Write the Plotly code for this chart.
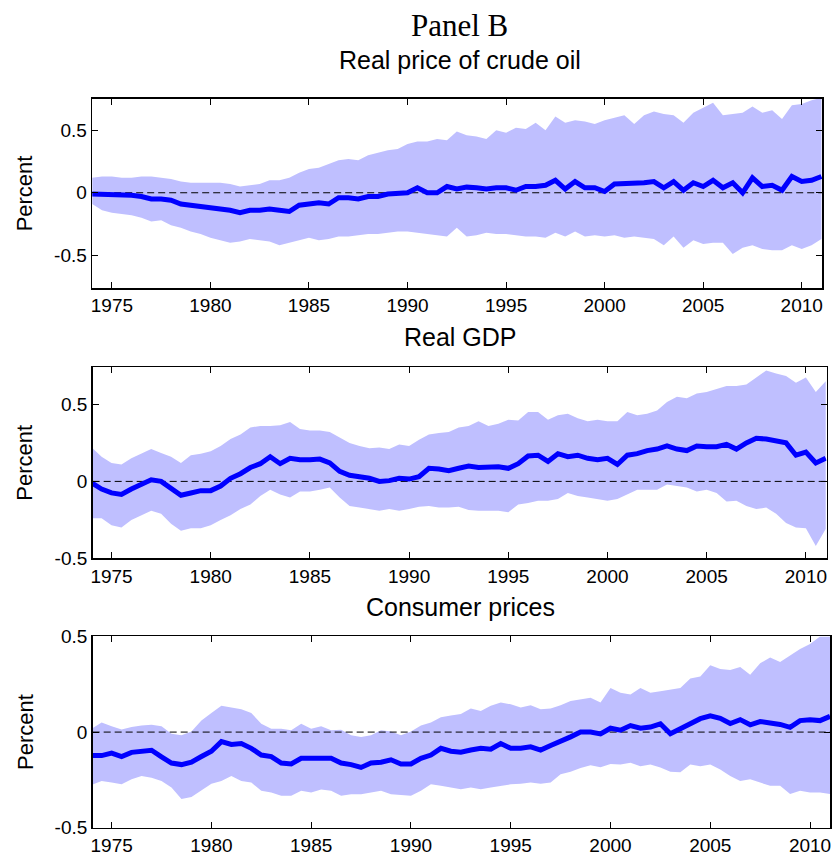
import plotly.graph_objects as go

W, H = 833, 867

# semi-annual observation dates (decimal years), 1974.0 ... 2011.0
dates = [1974.0 + 0.5 * i for i in range(75)]

year_ticks = [1975, 1980, 1985, 1990, 1995, 2000, 2005, 2010]
year_labels = ["1975", "1980", "1985", "1990", "1995", "2000", "2005", "2010"]
pct_ticks = [-0.5, 0, 0.5]
pct_labels = ["-0.5", "0", "0.5"]

titles = ["Real price of crude oil", "Real GDP", "Consumer prices"]

# ---- Panel 1: Real price of crude oil ----
oil_med = [
    -0.01, -0.01, -0.01, -0.02, -0.02, -0.03, -0.05, -0.05, -0.06, -0.09,   # 1974-1978.5
    -0.10, -0.11, -0.11, -0.13, -0.14, -0.16, -0.14, -0.14, -0.13, -0.14,   # 1979-1983.5
    -0.15, -0.10, -0.09, -0.08, -0.09, -0.04, -0.04, -0.05, -0.03, -0.03,   # 1984-1988.5
    -0.01, 0.00, 0.00, 0.04, 0.00, 0.00, 0.05, 0.03, 0.045, 0.04,           # 1989-1993.5
    0.03, 0.04, 0.04, 0.02, 0.05, 0.05, 0.06, 0.10, 0.03, 0.09,             # 1994-1998.5
    0.04, 0.04, 0.01, 0.07, 0.07, 0.07, 0.08, 0.09, 0.04, 0.09,             # 1999-2003.5
    0.02, 0.08, 0.05, 0.10, 0.04, 0.08, 0.00, 0.12, 0.05, 0.06,             # 2004-2008.5
    0.02, 0.13, 0.09, 0.10, 0.13,                                           # 2009-2011
]
oil_up = [
    0.12, 0.13, 0.13, 0.12, 0.12, 0.13, 0.13, 0.12, 0.11, 0.09,
    0.08, 0.08, 0.08, 0.08, 0.07, 0.05, 0.06, 0.07, 0.10, 0.10,
    0.12, 0.16, 0.19, 0.20, 0.23, 0.26, 0.27, 0.26, 0.30, 0.32,
    0.34, 0.35, 0.39, 0.41, 0.41, 0.43, 0.42, 0.49, 0.46, 0.45,
    0.43, 0.50, 0.48, 0.52, 0.51, 0.56, 0.50, 0.61, 0.56, 0.58,
    0.57, 0.55, 0.58, 0.60, 0.62, 0.55, 0.62, 0.65, 0.63, 0.62,
    0.56, 0.64, 0.68, 0.72, 0.62, 0.63, 0.64, 0.69, 0.64, 0.66,
    0.59, 0.70, 0.71, 0.74, 0.76,
]
oil_lo = [
    -0.09, -0.14, -0.16, -0.17, -0.18, -0.20, -0.23, -0.22, -0.26, -0.28,
    -0.31, -0.33, -0.36, -0.38, -0.40, -0.39, -0.37, -0.38, -0.39, -0.42,
    -0.40, -0.38, -0.36, -0.38, -0.37, -0.35, -0.35, -0.34, -0.33, -0.33,
    -0.32, -0.31, -0.31, -0.32, -0.33, -0.34, -0.35, -0.28, -0.35, -0.34,
    -0.32, -0.33, -0.33, -0.34, -0.35, -0.35, -0.36, -0.32, -0.35, -0.31,
    -0.35, -0.34, -0.35, -0.34, -0.36, -0.35, -0.36, -0.37, -0.42, -0.35,
    -0.44, -0.38, -0.41, -0.40, -0.40, -0.49, -0.44, -0.42, -0.45, -0.46,
    -0.46, -0.42, -0.45, -0.42, -0.37,
]

# ---- Panel 2: Real GDP ----
gdp_med = [
    -0.01, -0.05, -0.075, -0.085, -0.05, -0.02, 0.01, 0.00, -0.05, -0.09,
    -0.075, -0.06, -0.06, -0.03, 0.02, 0.05, 0.09, 0.115, 0.16, 0.115,
    0.15, 0.14, 0.14, 0.145, 0.12, 0.065, 0.04, 0.03, 0.02, 0.00,
    0.005, 0.02, 0.015, 0.03, 0.085, 0.08, 0.07, 0.085, 0.10, 0.09,
    0.09, 0.095, 0.085, 0.115, 0.165, 0.17, 0.13, 0.18, 0.16, 0.17,
    0.15, 0.14, 0.15, 0.11, 0.17, 0.18, 0.20, 0.21, 0.23, 0.21,
    0.20, 0.23, 0.225, 0.225, 0.24, 0.21, 0.25, 0.28, 0.275, 0.26,
    0.25, 0.17, 0.19, 0.12, 0.15,
]
gdp_up = [
    0.22, 0.16, 0.12, 0.11, 0.15, 0.18, 0.21, 0.185, 0.16, 0.12,
    0.17, 0.18, 0.195, 0.23, 0.275, 0.305, 0.35, 0.36, 0.36, 0.365,
    0.385, 0.34, 0.33, 0.33, 0.32, 0.285, 0.25, 0.23, 0.215, 0.22,
    0.21, 0.24, 0.23, 0.27, 0.305, 0.315, 0.32, 0.35, 0.36, 0.39,
    0.36, 0.375, 0.40, 0.395, 0.45, 0.45, 0.40, 0.43, 0.44, 0.41,
    0.39, 0.40, 0.39, 0.39, 0.45, 0.43, 0.44, 0.46, 0.515, 0.55,
    0.54, 0.57, 0.58, 0.60, 0.62, 0.62, 0.63, 0.675, 0.72, 0.70,
    0.685, 0.64, 0.675, 0.58, 0.65,
]
gdp_lo = [
    -0.24, -0.24, -0.285, -0.30, -0.25, -0.22, -0.19, -0.21, -0.275, -0.32,
    -0.305, -0.305, -0.285, -0.25, -0.22, -0.18, -0.15, -0.095, -0.055, -0.085,
    -0.105, -0.065, -0.065, -0.055, -0.04, -0.105, -0.16, -0.17, -0.18, -0.19,
    -0.18, -0.19, -0.18, -0.165, -0.16, -0.17, -0.17, -0.165, -0.185, -0.19,
    -0.19, -0.19, -0.20, -0.15, -0.14, -0.125, -0.125, -0.115, -0.075, -0.095,
    -0.105, -0.115, -0.125, -0.115, -0.085, -0.055, -0.055, -0.055, -0.02, -0.03,
    -0.04, -0.065, -0.055, -0.075, -0.13, -0.125, -0.16, -0.18, -0.17, -0.21,
    -0.27, -0.30, -0.305, -0.42, -0.31,
]

# ---- Panel 3: Consumer prices ----
cpi_med = [
    -0.123, -0.123, -0.11, -0.128, -0.106, -0.10, -0.095, -0.13, -0.162, -0.17,
    -0.157, -0.128, -0.10, -0.05, -0.065, -0.06, -0.085, -0.12, -0.128, -0.162,
    -0.167, -0.137, -0.14, -0.137, -0.137, -0.162, -0.17, -0.185, -0.162, -0.158,
    -0.145, -0.167, -0.167, -0.137, -0.12, -0.085, -0.10, -0.105, -0.094, -0.085,
    -0.09, -0.06, -0.085, -0.085, -0.077, -0.094, -0.07, -0.05, -0.025, 0.00,
    0.00, -0.01, 0.02, 0.01, 0.034, 0.02, 0.026, 0.043, -0.009, 0.017,
    0.04, 0.07, 0.085, 0.072, 0.045, 0.065, 0.038, 0.055, 0.048, 0.04,
    0.025, 0.06, 0.065, 0.06, 0.082,
]
cpi_up = [
    0.017, 0.05, 0.03, 0.014, 0.026, 0.034, 0.038, 0.03, -0.009, -0.017,
    0.003, 0.06, 0.10, 0.137, 0.128, 0.12, 0.10, 0.043, 0.017, 0.017,
    0.009, 0.043, 0.017, 0.03, 0.009, 0.012, -0.017, -0.026, -0.017, 0.009,
    0.003, -0.017, 0.003, 0.034, 0.05, 0.077, 0.087, 0.094, 0.123, 0.11,
    0.137, 0.154, 0.145, 0.128, 0.14, 0.12, 0.123, 0.14, 0.162, 0.17,
    0.18, 0.154, 0.23, 0.205, 0.196, 0.23, 0.205, 0.213, 0.22, 0.23,
    0.28, 0.29, 0.35, 0.33, 0.324, 0.34, 0.30, 0.36, 0.39, 0.367,
    0.40, 0.435, 0.46, 0.50, 0.50,
]
cpi_lo = [
    -0.276, -0.256, -0.264, -0.273, -0.247, -0.23, -0.239, -0.256, -0.29, -0.35,
    -0.34, -0.307, -0.27, -0.256, -0.23, -0.256, -0.264, -0.307, -0.316, -0.333,
    -0.333, -0.307, -0.316, -0.30, -0.307, -0.333, -0.325, -0.325, -0.316, -0.307,
    -0.325, -0.328, -0.333, -0.307, -0.273, -0.28, -0.29, -0.299, -0.29, -0.299,
    -0.29, -0.28, -0.273, -0.27, -0.264, -0.27, -0.264, -0.22, -0.208, -0.188,
    -0.174, -0.184, -0.167, -0.17, -0.16, -0.179, -0.17, -0.185, -0.208, -0.21,
    -0.17, -0.179, -0.17, -0.196, -0.23, -0.256, -0.247, -0.264, -0.28, -0.28,
    -0.324, -0.307, -0.316, -0.316, -0.324,
]

series = [
    (oil_med, oil_up, oil_lo),
    (gdp_med, gdp_up, gdp_lo),
    (cpi_med, cpi_up, cpi_lo),
]

# layout geometry (pixels)
px_x = [(90.5, 823.0), (91.0, 827.5), (91.0, 831.0)]
px_y = [(91.0, 285.0), (366.0, 562.0), (642.0, 838.0)]
x_ranges = [[1974.0, 2011.03], [1974.05, 2011.04], [1974.05, 2011.0]]
y_ranges = [[-0.763, 0.752], [-0.5, 0.742], [-0.5, 0.5]]
title_y = [51, 335, 612]

BAND = "#BFBFFF"
LINE = "#0000FF"
SANS = "Liberation Sans, Arial, sans-serif"
SERIF = "Liberation Serif, Times New Roman, serif"

fig = go.Figure()
annotations = []
for i, (med, up, lo) in enumerate(series):
    n = "" if i == 0 else str(i + 1)
    xa, ya = "x" + n, "y" + n
    fig.add_trace(go.Scatter(x=dates, y=up, mode="lines", line=dict(width=0, color=BAND),
                             xaxis=xa, yaxis=ya, showlegend=False, hoverinfo="skip"))
    fig.add_trace(go.Scatter(x=dates, y=lo, mode="lines", line=dict(width=0, color=BAND),
                             fill="tonexty", fillcolor=BAND,
                             xaxis=xa, yaxis=ya, showlegend=False, hoverinfo="skip"))
    fig.add_trace(go.Scatter(x=x_ranges[i], y=[0, 0], mode="lines",
                             line=dict(color="black", width=1, dash="7px,4px"),
                             xaxis=xa, yaxis=ya, showlegend=False, hoverinfo="skip"))
    fig.add_trace(go.Scatter(x=dates, y=med, mode="lines", line=dict(color=LINE, width=5),
                             xaxis=xa, yaxis=ya, showlegend=False))

    x0, x1 = px_x[i]
    y0, y1 = px_y[i]
    fig.update_layout(**{
        "xaxis" + n: dict(
            domain=[x0 / W, x1 / W], range=x_ranges[i], anchor=ya,
            tickvals=year_ticks, ticktext=year_labels,
            ticks="inside", ticklen=6, tickcolor="black", tickwidth=1,
            showline=True, linecolor="black", linewidth=1.5, mirror="ticks",
            showgrid=False, zeroline=False,
            tickfont=dict(family=SANS, size=19, color="black"),
        ),
        "yaxis" + n: dict(
            domain=[1 - y1 / H, 1 - y0 / H], range=y_ranges[i], anchor=xa,
            tickvals=pct_ticks, ticktext=pct_labels,
            ticks="inside", ticklen=6, tickcolor="black", tickwidth=1,
            showline=True, linecolor="black", linewidth=1.5, mirror="ticks",
            showgrid=False, zeroline=False,
            tickfont=dict(family=SANS, size=19, color="black"),
        ),
    })
    annotations.append(dict(text=titles[i], x=460 / W, y=1 - title_y[i] / H,
                            xref="paper", yref="paper", xanchor="center", yanchor="middle",
                            showarrow=False, font=dict(family=SANS, size=25, color="black")))
    annotations.append(dict(text="Percent", x=23 / W, y=1 - (y0 + y1) / 2 / H,
                            xref="paper", yref="paper", xanchor="center", yanchor="middle",
                            textangle=-90, showarrow=False,
                            font=dict(family=SANS, size=22, color="black")))

annotations.append(dict(text="Panel B", x=459 / W, y=1 - 16 / H, xref="paper", yref="paper",
                        xanchor="center", yanchor="middle", showarrow=False,
                        font=dict(family=SERIF, size=31, color="black")))

fig.update_layout(
    width=W, height=H,
    margin=dict(l=0, r=0, t=0, b=0),
    paper_bgcolor="white", plot_bgcolor="white",
    annotations=annotations,
    showlegend=False,
)

fig.write_html("out.html",
               config={"displayModeBar": False, "staticPlot": True},
               post_script="document.body.style.margin='0px';document.body.style.overflow='hidden';")
